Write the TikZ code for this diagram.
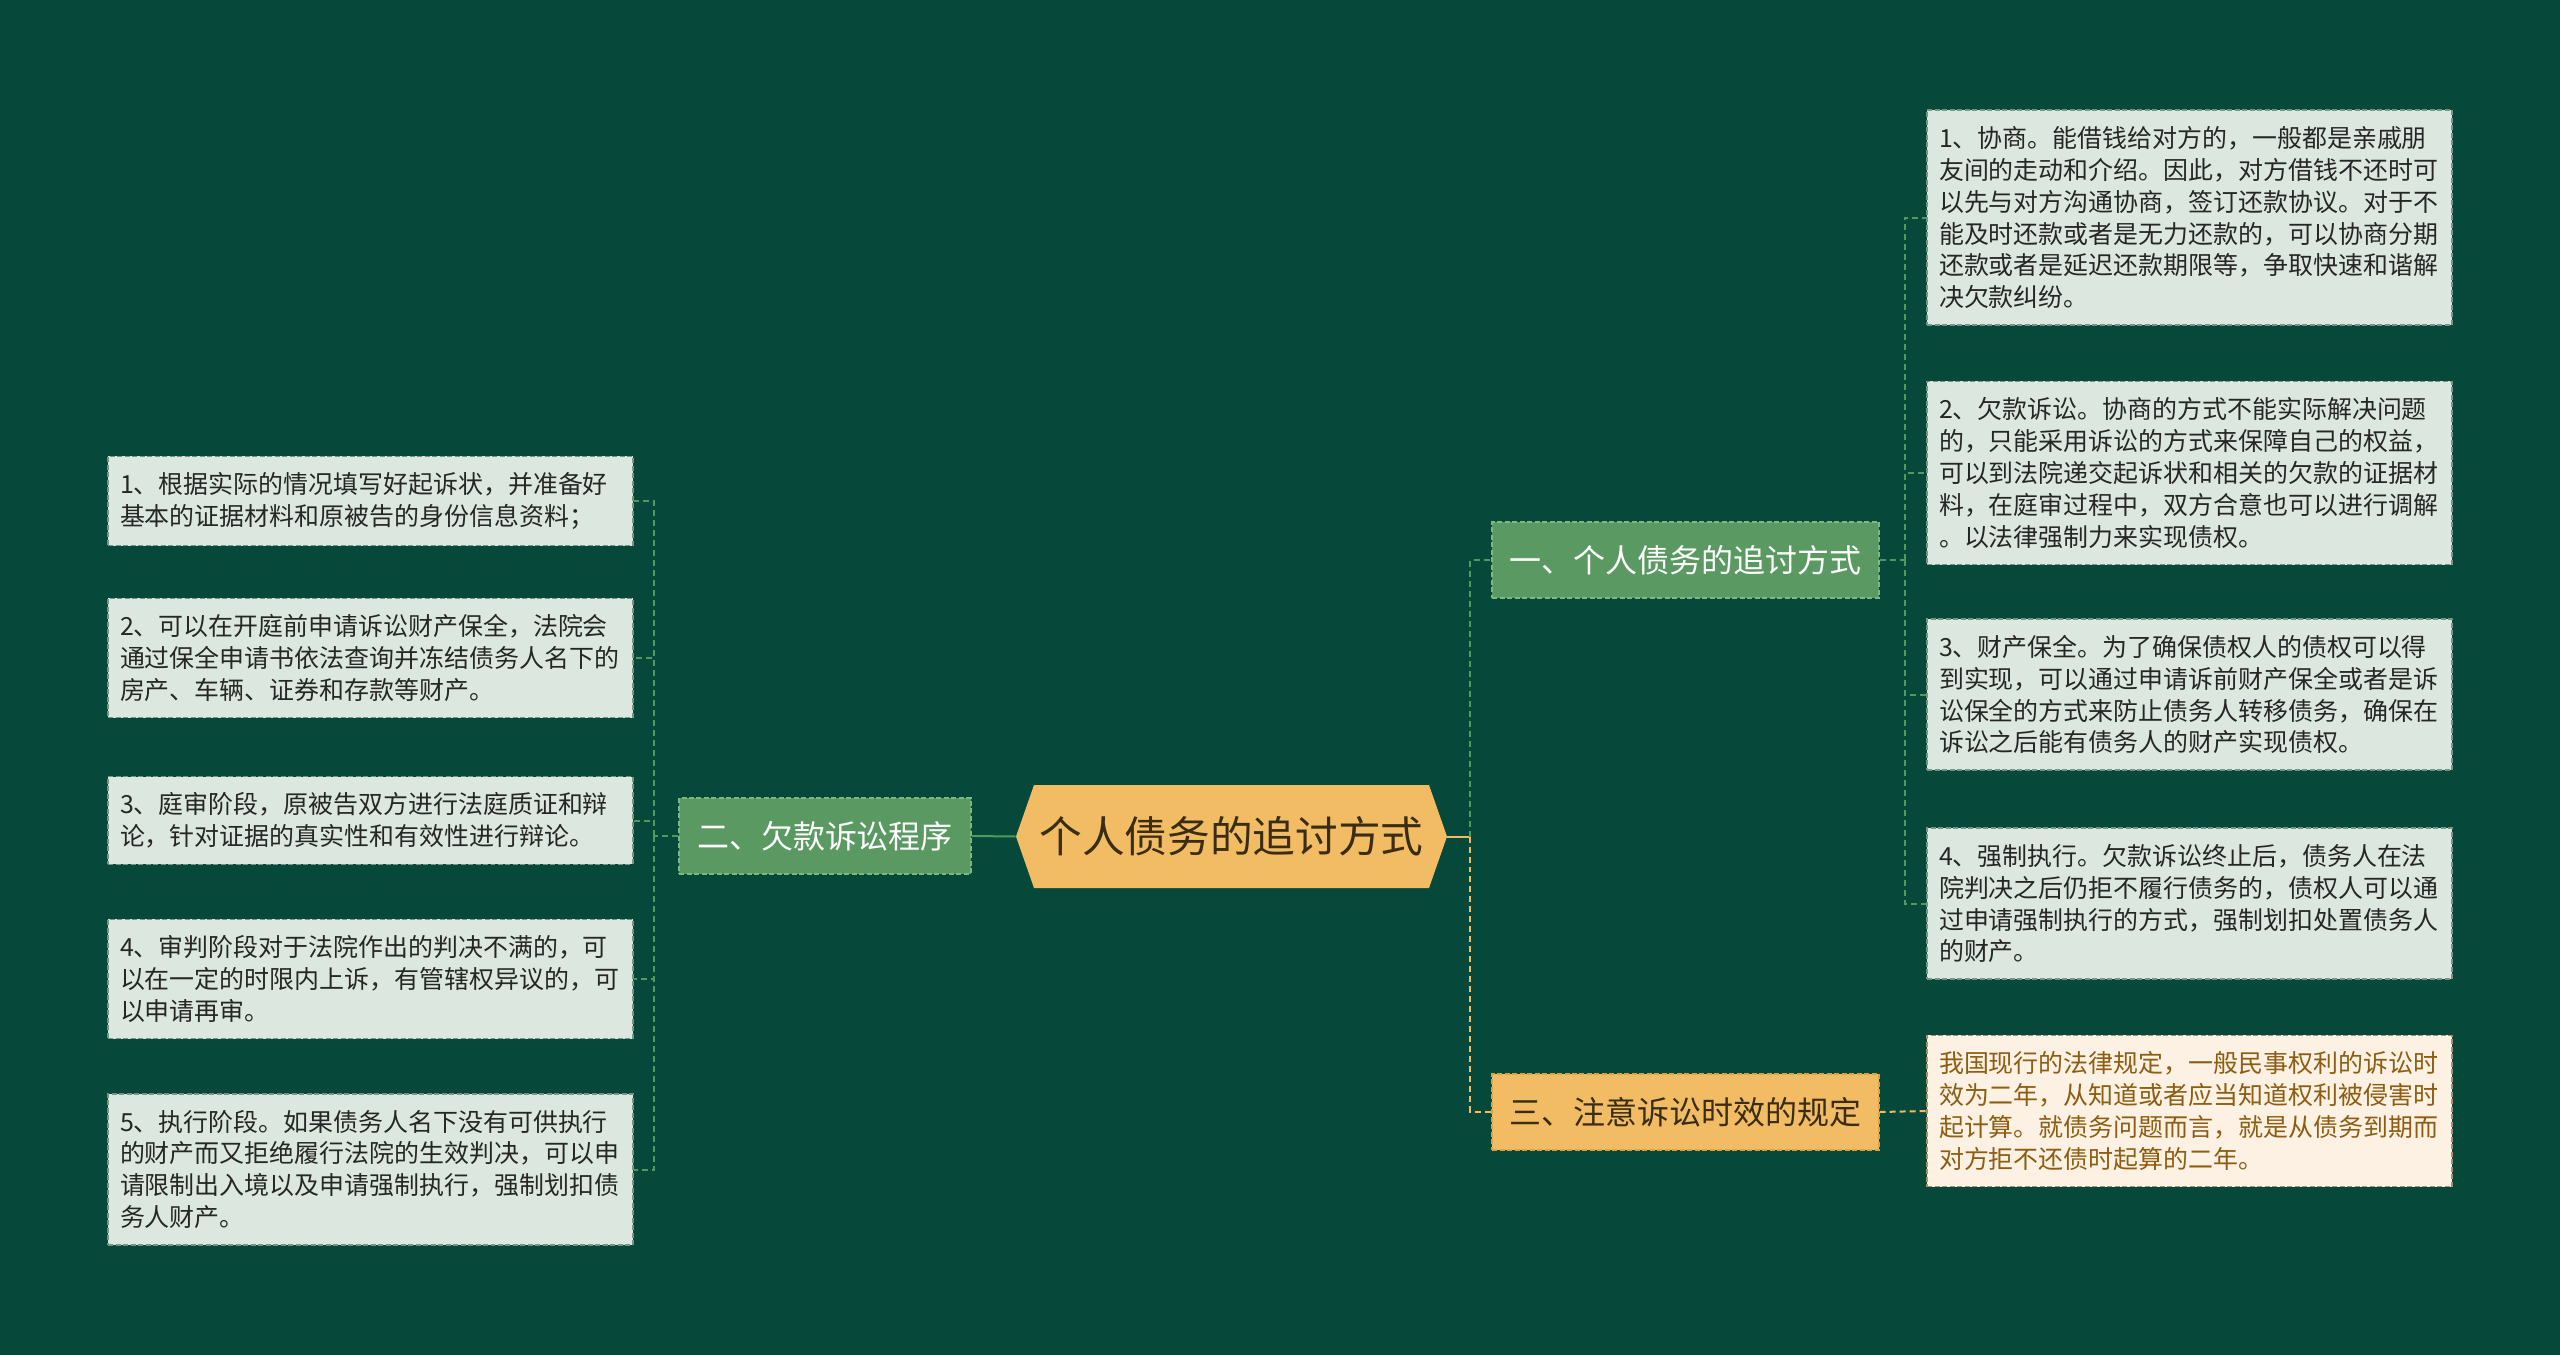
\documentclass[tikz,border=0pt]{standalone}
\usepackage{fontspec}
\setmainfont{Noto Sans CJK SC}
\usetikzlibrary{calc, positioning}
\definecolor{bgdark}{HTML}{06493A}
\definecolor{rootfill}{HTML}{F1BC63}
\definecolor{roottext}{HTML}{3A2D14}
\definecolor{midgreen}{HTML}{5A9A62}
\definecolor{midgreenline}{HTML}{7CB884}
\definecolor{midorange}{HTML}{F1BC63}
\definecolor{midorangeline}{HTML}{D9A247}
\definecolor{leafgreen}{HTML}{DCE8DF}
\definecolor{leafline}{HTML}{7A9284}
\definecolor{leaforange}{HTML}{FCF1E2}
\definecolor{leaforangeline}{HTML}{A8906C}
\definecolor{leaforangetext}{HTML}{8C5D12}
\definecolor{linkgreen}{HTML}{4F9A5C}
\definecolor{linkyellow}{HTML}{F1BC63}

\begin{document}
\begin{tikzpicture}[x=0.02cm, y=-0.02cm,
    boxdash/.style={dash pattern=on 0.1cm off 0.05cm, line width=0.03cm},
    leaf/.style={boxdash, draw=leafline, fill=leafgreen, text=black!85,
        text width=10.02cm, inner xsep=0.24cm, inner ysep=0.32cm, align=left,
        font=\fontsize{14.2}{18.2}\selectfont},
    leafy/.style={leaf, draw=leaforangeline, fill=leaforange, text=leaforangetext},
    branch/.style={boxdash, draw=midgreenline, fill=midgreen, text=white,
        minimum height=1.52cm, inner sep=0pt, font=\fontsize{18.2}{22}\selectfont},
    branchy/.style={branch, draw=midorangeline, fill=midorange, text=roottext},
    link/.style={linkgreen, line width=0.04cm, dash pattern=on 0.12cm off 0.08cm},
    linky/.style={link, linkyellow}]

    % 背景
    \fill[bgdark] (0,0) rectangle (2560,1355);
    \useasboundingbox (0,0) rectangle (2560,1355);

    % 中心主题
    \coordinate (rc) at (1231.5,836.5);
    \fill[rootfill] ($(rc)+(-215.5,0)$) -- ($(rc)+(-197.5,-51.5)$) -- ($(rc)+(197.5,-51.5)$)
        -- ($(rc)+(215.5,0)$) -- ($(rc)+(197.5,51.5)$) -- ($(rc)+(-197.5,51.5)$) -- cycle;
    \node[minimum width=8.62cm, minimum height=2.06cm, inner sep=0pt, text=roottext,
        font=\fontsize{24.3}{28}\selectfont] (root) at (rc) {个人债务的追讨方式};

    % 分支
    \node[branch, minimum width=7.74cm] (b1) at (1685.5,560) {一、个人债务的追讨方式};
    \node[branch, minimum width=5.84cm] (b2) at (825,836) {二、欠款诉讼程序};
    \node[branchy, minimum width=7.74cm] (b3) at (1685.5,1112) {三、注意诉讼时效的规定};

    % 右侧内容
    \node[leaf] (r1) at (2189.5,217.5) {1、协商。能借钱给对方的，一般都是亲戚朋\\友间的走动和介绍。因此，对方借钱不还时可\\以先与对方沟通协商，签订还款协议。对于不\\能及时还款或者是无力还款的，可以协商分期\\还款或者是延迟还款期限等，争取快速和谐解\\决欠款纠纷。};
    \node[leaf] (r2) at (2189.5,473) {2、欠款诉讼。协商的方式不能实际解决问题\\的，只能采用诉讼的方式来保障自己的权益，\\可以到法院递交起诉状和相关的欠款的证据材\\料，在庭审过程中，双方合意也可以进行调解\\。以法律强制力来实现债权。};
    \node[leaf] (r3) at (2189.5,694.5) {3、财产保全。为了确保债权人的债权可以得\\到实现，可以通过申请诉前财产保全或者是诉\\讼保全的方式来防止债务人转移债务，确保在\\诉讼之后能有债务人的财产实现债权。};
    \node[leaf] (r4) at (2189.5,903.5) {4、强制执行。欠款诉讼终止后，债务人在法\\院判决之后仍拒不履行债务的，债权人可以通\\过申请强制执行的方式，强制划扣处置债务人\\的财产。};
    \node[leafy] (r5) at (2189.5,1111) {我国现行的法律规定，一般民事权利的诉讼时\\效为二年，从知道或者应当知道权利被侵害时\\起计算。就债务问题而言，就是从债务到期而\\对方拒不还债时起算的二年。};

    % 左侧内容
    \node[leaf] (l1) at (370.5,501) {1、根据实际的情况填写好起诉状，并准备好\\基本的证据材料和原被告的身份信息资料；};
    \node[leaf] (l2) at (370.5,658) {2、可以在开庭前申请诉讼财产保全，法院会\\通过保全申请书依法查询并冻结债务人名下的\\房产、车辆、证券和存款等财产。};
    \node[leaf] (l3) at (370.5,820.5) {3、庭审阶段，原被告双方进行法庭质证和辩\\论，针对证据的真实性和有效性进行辩论。};
    \node[leaf] (l4) at (370.5,979) {4、审判阶段对于法院作出的判决不满的，可\\以在一定的时限内上诉，有管辖权异议的，可\\以申请再审。};
    \node[leaf] (l5) at (370.5,1169.5) {5、执行阶段。如果债务人名下没有可供执行\\的财产而又拒绝履行法院的生效判决，可以申\\请限制出入境以及申请强制执行，强制划扣债\\务人财产。};

    % 连线
    \draw[linkgreen, line width=0.04cm] (root.west) -- (b2.east);
    \draw[linkyellow, line width=0.04cm] (root.east) -- ++(23,0) coordinate (rj);
    \draw[link] (rj) |- (b1.west);
    \draw[linky] (rj) |- (b3.west);

    \draw[link] (b1.east) -- ++(25,0) coordinate (j1);
    \foreach \n in {r1,r2,r3,r4}
        \draw[link] (j1) |- (\n.west);
    \draw[linky] (b3.east) -- (r5.west);

    \draw[link] (b2.west) -- ++(-24,0) coordinate (j2);
    \foreach \n in {l1,l2,l3,l4,l5}
        \draw[link] (j2) |- (\n.east);
\end{tikzpicture}
\end{document}
